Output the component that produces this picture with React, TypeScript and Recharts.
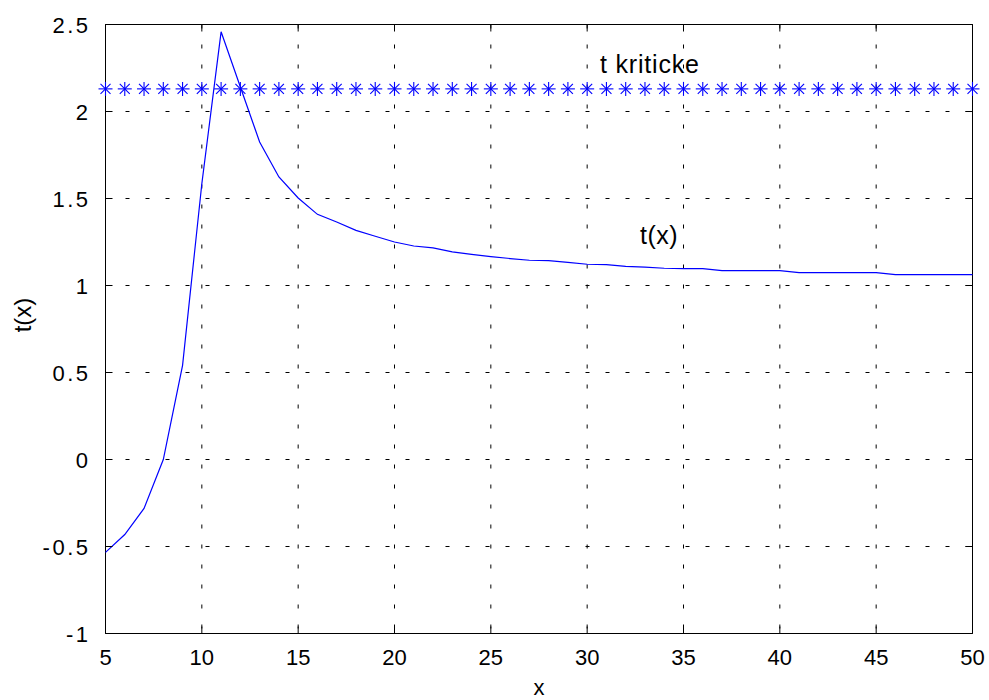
import React from 'react';
import {
  ComposedChart,
  Line,
  XAxis,
  YAxis,
  CartesianGrid,
  ReferenceArea,
  ReferenceDot,
} from 'recharts';

const X_VALUES = [
  5, 6, 7, 8, 9, 10, 11, 12, 13, 14, 15, 16, 17, 18, 19, 20, 21, 22, 23, 24, 25, 26, 27,
  28, 29, 30, 31, 32, 33, 34, 35, 36, 37, 38, 39, 40, 41, 42, 43, 44, 45, 46, 47, 48, 49, 50,
];

const T_VALUES = [
  -0.534, -0.431, -0.281, 0.0, 0.541, 1.585, 2.458, 2.141, 1.825, 1.624, 1.503, 1.409,
  1.365, 1.317, 1.283, 1.25, 1.227, 1.216, 1.193, 1.179, 1.166, 1.155, 1.145, 1.143,
  1.133, 1.122, 1.12, 1.11, 1.106, 1.099, 1.097, 1.097, 1.086, 1.086, 1.086, 1.086,
  1.074, 1.074, 1.074, 1.074, 1.074, 1.063, 1.063, 1.063, 1.063, 1.063,
];

const T_CRITICAL = [
  2.13, 2.13, 2.13, 2.13, 2.13, 2.13, 2.13, 2.13, 2.13, 2.13, 2.13, 2.13, 2.13, 2.13,
  2.13, 2.13, 2.13, 2.13, 2.13, 2.13, 2.13, 2.13, 2.13, 2.13, 2.13, 2.13, 2.13, 2.13,
  2.13, 2.13, 2.13, 2.13, 2.13, 2.13, 2.13, 2.13, 2.13, 2.13, 2.13, 2.13, 2.13, 2.13,
  2.13, 2.13, 2.13, 2.13,
];

const X_TICKS = [5, 10, 15, 20, 25, 30, 35, 40, 45, 50];
const Y_TICKS = [-1, -0.5, 0, 0.5, 1, 1.5, 2, 2.5];

const LABEL_CRIT = { x: 30.67, y: 2.221, text: 't kriticke' };
const LABEL_CURVE = { x: 32.74, y: 1.241, text: 't(x)' };

const data = X_VALUES.map((x, i) => ({ x, t: T_VALUES[i], crit: T_CRITICAL[i] }));

const FONT = '"Liberation Sans", Arial, Helvetica, sans-serif';
const BLUE = '#0000ff';
const PLOT_W = 867;
const PLOT_H = 609;
const TICK_LEN = 7;

const Star = (props: any) => {
  const { cx, cy, index } = props;
  if (cx == null || cy == null) return null;
  return (
    <g key={`star-${index}`} stroke={BLUE} strokeWidth={1.1}>
      <line x1={cx - 7} y1={cy} x2={cx + 7} y2={cy} />
      <line x1={cx} y1={cy - 7} x2={cx} y2={cy + 7} />
      <line x1={cx - 5} y1={cy - 5} x2={cx + 5} y2={cy + 5} />
      <line x1={cx - 5} y1={cy + 5} x2={cx + 5} y2={cy - 5} />
    </g>
  );
};

const YTick = (props: any) => {
  const { x, y, payload } = props;
  return (
    <g>
      <line x1={x} y1={y} x2={x + TICK_LEN} y2={y} stroke="#000" />
      <line x1={x + PLOT_W - TICK_LEN} y1={y} x2={x + PLOT_W} y2={y} stroke="#000" />
      <text
        x={x - 15}
        y={y + 8}
        textAnchor="end"
        fontFamily={FONT}
        fontSize={22}
        letterSpacing={2.5}
        fill="#000"
      >
        {String(payload.value)}
      </text>
    </g>
  );
};

const XTick = (props: any) => {
  const { x, y, payload } = props;
  return (
    <g>
      <line x1={x} y1={y} x2={x} y2={y - TICK_LEN} stroke="#000" />
      <line x1={x} y1={y - PLOT_H} x2={x} y2={y - PLOT_H + TICK_LEN} stroke="#000" />
      <text x={x} y={y + 31.5} textAnchor="middle" fontFamily={FONT} fontSize={22} fill="#000">
        {String(payload.value)}
      </text>
    </g>
  );
};

const YLabel = (props: any) => {
  const vb = props.viewBox || {};
  const cx = vb.x - 23.5;
  const cy = vb.y + vb.height / 2 - 14;
  return (
    <text
      x={cx}
      y={cy}
      transform={`rotate(-90, ${cx}, ${cy})`}
      textAnchor="middle"
      dominantBaseline="central"
      fontFamily={FONT}
      fontSize={24}
      fill="#000"
    >
      t(x)
    </text>
  );
};

const XLabel = (props: any) => {
  const vb = props.viewBox || {};
  return (
    <text
      x={vb.x + vb.width / 2}
      y={vb.y + 61.5}
      textAnchor="middle"
      fontFamily={FONT}
      fontSize={22}
      fill="#000"
    >
      x
    </text>
  );
};

const makeTextLabel = (text: string, spacing: number) => (props: any) => {
  const vb = props.viewBox || {};
  const cx = vb.x + (vb.width || 0) / 2;
  const cy = vb.y + (vb.height || 0) / 2;
  return (
    <text
      x={cx}
      y={cy}
      textAnchor="start"
      fontFamily={FONT}
      fontSize={25}
      letterSpacing={spacing}
      fill="#000"
    >
      {text}
    </text>
  );
};

export default function App() {
  return (
    <div style={{ position: 'absolute', left: 0, top: 0, width: 989, height: 700, background: '#fff' }}>
      <ComposedChart
        width={989}
        height={700}
        data={data}
        margin={{ top: 24.5, right: 16.5, bottom: 36.5, left: 45.5 }}
      >
        <CartesianGrid stroke="#000" strokeDasharray="4 16" />
        <XAxis
          dataKey="x"
          type="number"
          domain={[5, 50]}
          ticks={X_TICKS}
          height={30}
          tickSize={0}
          tickMargin={0}
          tickLine={false}
          axisLine={false}
          tick={<XTick />}
          interval={0}
          label={<XLabel />}
        />
        <YAxis
          type="number"
          domain={[-1, 2.5]}
          ticks={Y_TICKS}
          width={60}
          tickSize={0}
          tickMargin={0}
          tickLine={false}
          axisLine={false}
          tick={<YTick />}
          interval={0}
          label={<YLabel />}
        />
        <Line
          dataKey="t"
          type="linear"
          stroke={BLUE}
          strokeWidth={1.2}
          dot={false}
          activeDot={false}
          isAnimationActive={false}
        />
        <Line
          dataKey="crit"
          type="linear"
          stroke="none"
          dot={Star}
          activeDot={false}
          isAnimationActive={false}
        />
        <ReferenceArea x1={5} x2={50} y1={-1} y2={2.5} fill="none" stroke="#000" strokeWidth={1} />
        <ReferenceDot
          x={LABEL_CRIT.x}
          y={LABEL_CRIT.y}
          r={1}
          fill="none"
          stroke="none"
          label={makeTextLabel(LABEL_CRIT.text, 0.8)}
        />
        <ReferenceDot
          x={LABEL_CURVE.x}
          y={LABEL_CURVE.y}
          r={1}
          fill="none"
          stroke="none"
          label={makeTextLabel(LABEL_CURVE.text, 0.5)}
        />
      </ComposedChart>
    </div>
  );
}
